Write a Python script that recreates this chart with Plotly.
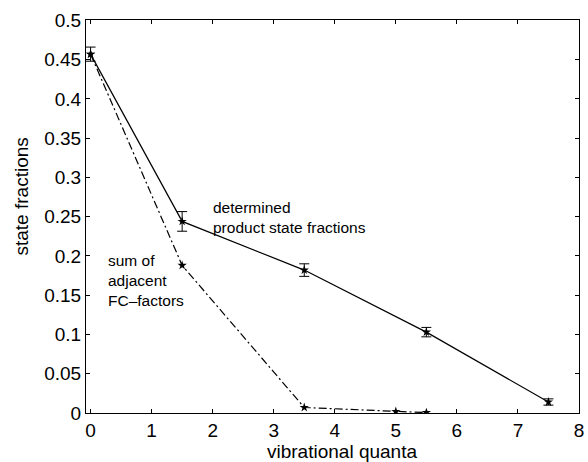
import plotly.graph_objects as go

# Data
x_det = [0, 1.5, 3.5, 5.5, 7.5]
y_det = [0.457, 0.244, 0.182, 0.103, 0.014]
err_det = [0.009, 0.0125, 0.008, 0.006, 0.004]

x_fc = [0, 1.5, 3.5, 5.0, 5.5]
y_fc = [0.457, 0.188, 0.007, 0.002, 0.0005]

x_ticks = [0, 1, 2, 3, 4, 5, 6, 7, 8]
y_ticks = [0, 0.05, 0.1, 0.15, 0.2, 0.25, 0.3, 0.35, 0.4, 0.45, 0.5]
y_ticklabels = ["0", "0.05", "0.1", "0.15", "0.2", "0.25", "0.3", "0.35", "0.4", "0.45", "0.5"]

FONT = "Liberation Sans, Arial, Helvetica, sans-serif"

fig = go.Figure()

fig.add_trace(go.Scatter(
    x=x_fc, y=y_fc, mode="lines+markers",
    line=dict(color="black", width=1.2, dash="8px,3px,2px,3px"),
    marker=dict(symbol="star", size=7, color="black"),
    showlegend=False,
))

fig.add_trace(go.Scatter(
    x=x_det, y=y_det, mode="lines+markers",
    line=dict(color="black", width=1.2),
    marker=dict(symbol="star", size=7, color="black"),
    error_y=dict(type="data", array=err_det, visible=True, color="black", thickness=1, width=5),
    showlegend=False,
))

fig.add_annotation(x=1.97, y=0.275, xref="x", yref="y", text="determined<br>product state fractions",
                   showarrow=False, xanchor="left", yanchor="top", align="left",
                   font=dict(family=FONT, size=15.5, color="black"))
fig.add_annotation(x=0.25, y=0.207, xref="x", yref="y", text="sum of<br>adjacent<br>FC\u2013factors",
                   showarrow=False, xanchor="left", yanchor="top", align="left",
                   font=dict(family=FONT, size=15.5, color="black"))

# axis titles (placed as in the reference)
fig.add_annotation(x=-0.1305, y=0.55, xref="paper", yref="paper", text="state fractions",
                   textangle=-90, showarrow=False, xanchor="center", yanchor="middle",
                   font=dict(family=FONT, size=19, color="black"))
fig.add_annotation(x=0.52, y=-0.097, xref="paper", yref="paper", text="vibrational quanta",
                   showarrow=False, xanchor="center", yanchor="middle",
                   font=dict(family=FONT, size=19, color="black"))

axis_common = dict(
    showline=True, linecolor="black", linewidth=1, mirror="ticks",
    ticks="inside", ticklen=4, tickcolor="black", tickwidth=1,
    showgrid=False, zeroline=False, ticklabeloverflow="allow",
    tickfont=dict(family=FONT, size=19, color="black"),
)

fig.update_xaxes(range=[-0.075, 8.0005], tickvals=x_ticks, **axis_common)
fig.update_yaxes(range=[0, 0.5005], tickvals=y_ticks, ticktext=y_ticklabels, **axis_common)

fig.update_layout(
    width=588, height=462,
    margin=dict(l=86, r=4, t=20, b=49),
    plot_bgcolor="white", paper_bgcolor="white",
    font=dict(family=FONT, color="black"),
)

fig.write_html("out.html")
